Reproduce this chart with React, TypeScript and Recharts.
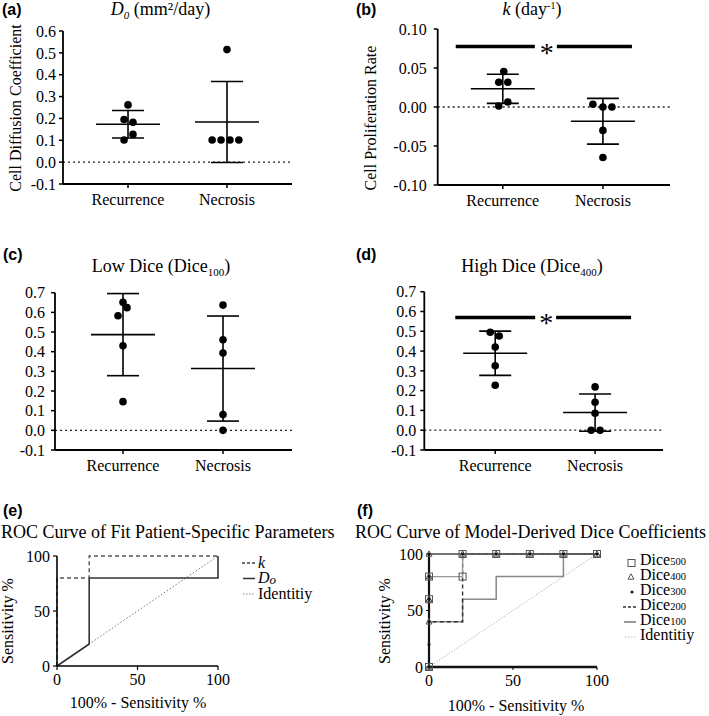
import React from "react";
import {
  ComposedChart,
  Scatter,
  XAxis,
  YAxis,
  ReferenceLine,
  ReferenceDot,
  ErrorBar,
  LineChart,
  Line,
} from "recharts";

const SERIF = '"Liberation Serif", "Times New Roman", serif';
const SANS = '"Liberation Sans", Arial, sans-serif';

const GROUPS = ["Recurrence", "Necrosis"];

// (a) D0 (mm²/day)
const d0Recurrence = [0.262, 0.195, 0.182, 0.127, 0.101];
const d0RecurrenceJitter = [0, -0.04, 0.05, 0.05, -0.04];
const d0Necrosis = [0.515, 0.101, 0.101, 0.101, 0.101];
const d0NecrosisJitter = [0, -0.15, -0.06, 0.03, 0.12];
const d0Ticks = [-0.1, 0, 0.1, 0.2, 0.3, 0.4, 0.5, 0.6];

// (b) k (day^-1)
const kRecurrence = [0.0454, 0.0318, 0.0318, 0.0064, 0.0013];
const kRecurrenceJitter = [0.01, -0.04, 0.05, 0.05, -0.04];
const kNecrosis = [0.0035, 0, 0, -0.03, -0.0647];
const kNecrosisJitter = [-0.1, 0, 0.09, 0, 0];
const kTicks = [-0.1, -0.05, 0, 0.05, 0.1];

// (c) low dice
const lowRecurrence = [0.651, 0.624, 0.583, 0.43, 0.146];
const lowRecurrenceJitter = [0, 0.04, -0.05, 0, 0];
const lowNecrosis = [0.637, 0.461, 0.393, 0.08, 0];
const lowNecrosisJitter = [0, 0, 0, 0, 0];

// (d) high dice
const highRecurrence = [0.495, 0.476, 0.42, 0.326, 0.227];
const highRecurrenceJitter = [-0.05, 0.04, 0, 0, 0];
const highNecrosis = [0.219, 0.141, 0.086, 0, 0];
const highNecrosisJitter = [0, 0, 0, -0.04, 0.05];
const diceTicks = [-0.1, 0, 0.1, 0.2, 0.3, 0.4, 0.5, 0.6, 0.7];

// (e) ROC, fit parameters (fpr = 100% - specificity, tpr = sensitivity)
const rocK = [
  { fpr: 0, tpr: 0 },
  { fpr: 0, tpr: 80 },
  { fpr: 20, tpr: 80 },
  { fpr: 20, tpr: 100 },
  { fpr: 100, tpr: 100 },
];
const rocD0 = [
  { fpr: 0, tpr: 0 },
  { fpr: 20, tpr: 20 },
  { fpr: 20, tpr: 80 },
  { fpr: 100, tpr: 80 },
  { fpr: 100, tpr: 100 },
];
const rocIdentity = [
  { fpr: 0, tpr: 0 },
  { fpr: 100, tpr: 100 },
];

// (f) ROC, dice coefficients
const rocDice500 = [
  { fpr: 0, tpr: 0 },
  { fpr: 0, tpr: 60 },
  { fpr: 0, tpr: 80 },
  { fpr: 20, tpr: 80 },
  { fpr: 20, tpr: 100 },
  { fpr: 40, tpr: 100 },
  { fpr: 60, tpr: 100 },
  { fpr: 80, tpr: 100 },
  { fpr: 100, tpr: 100 },
];
const rocDice400 = [
  { fpr: 0, tpr: 0 },
  { fpr: 0, tpr: 40 },
  { fpr: 0, tpr: 60 },
  { fpr: 0, tpr: 80 },
  { fpr: 0, tpr: 100 },
  { fpr: 20, tpr: 100 },
  { fpr: 40, tpr: 100 },
  { fpr: 60, tpr: 100 },
  { fpr: 80, tpr: 100 },
  { fpr: 100, tpr: 100 },
];
const rocDice300 = [
  { fpr: 0, tpr: 0 },
  { fpr: 0, tpr: 20 },
  { fpr: 0, tpr: 40 },
  { fpr: 0, tpr: 60 },
  { fpr: 0, tpr: 80 },
  { fpr: 0, tpr: 100 },
  { fpr: 20, tpr: 100 },
  { fpr: 40, tpr: 100 },
  { fpr: 60, tpr: 100 },
  { fpr: 80, tpr: 100 },
  { fpr: 100, tpr: 100 },
];
const rocDice200 = [
  { fpr: 0, tpr: 0 },
  { fpr: 0, tpr: 40 },
  { fpr: 20, tpr: 40 },
  { fpr: 20, tpr: 100 },
  { fpr: 100, tpr: 100 },
];
const rocDice100 = [
  { fpr: 0, tpr: 0 },
  { fpr: 0, tpr: 40 },
  { fpr: 20, tpr: 40 },
  { fpr: 20, tpr: 60 },
  { fpr: 40, tpr: 60 },
  { fpr: 40, tpr: 80 },
  { fpr: 80, tpr: 80 },
  { fpr: 80, tpr: 100 },
  { fpr: 100, tpr: 100 },
];
const rocTicks = [0, 50, 100];
const diceLegend = ["500", "400", "300", "200", "100"];

function meanSd(v: number[]) {
  const m = v.reduce((a, b) => a + b, 0) / v.length;
  const sd = Math.sqrt(v.reduce((a, b) => a + (b - m) ** 2, 0) / (v.length - 1));
  return { m, sd };
}

// tick text drawn by hand so the serif font is used
function serifTick(fmt: (v: number) => string, orient: "x" | "y") {
  return (p: any) => (
    <text
      x={p.x}
      y={p.y}
      dy={orient === "x" ? "0.71em" : "0.355em"}
      textAnchor={orient === "x" ? "middle" : "end"}
      fontSize={16}
      fontFamily={SERIF}
      fill="#000"
    >
      {fmt(p.payload.value)}
    </text>
  );
}

const MeanLine = (p: any) => (
  <line x1={p.cx - 32} x2={p.cx + 32} y1={p.cy} y2={p.cy} stroke="#000" strokeWidth={1.6} />
);
const BlackDot = (p: any) => <circle cx={p.cx} cy={p.cy} r={3.8} fill="#000" />;

const axisStyle = { stroke: "#000", strokeWidth: 1.8 };
const groupTick = serifTick((v) => GROUPS[v - 1], "x");
const plainTick = serifTick((v) => String(v), "x");
const plainYTick = serifTick((v) => String(v), "y");

function ScatterPanel(props: any) {
  const { box, margin, yAxisWidth, xDomain, yDomain, yTicks, decimals, yTickMargin, groups, sig } = props;
  const points = groups.flatMap((g: any, gi: number) =>
    g.values.map((y: number, i: number) => ({ x: gi + 1 + g.jitter[i], y }))
  );
  const stats = groups.map((g: any, gi: number) => {
    const s = meanSd(g.values);
    return { x: gi + 1, y: s.m, sd: s.sd };
  });
  return (
    <div style={{ position: "absolute", left: box.left, top: box.top }}>
      <ComposedChart width={box.width} height={box.height} margin={margin}>
        <XAxis
          type="number"
          dataKey="x"
          domain={xDomain}
          ticks={[1, 2]}
          interval={0}
          allowDataOverflow
          axisLine={axisStyle}
          tickLine={{ stroke: "#000", strokeWidth: 1.5 }}
          tickSize={4}
          tickMargin={6}
          tick={groupTick}
          height={30}
        />
        <YAxis
          type="number"
          dataKey="y"
          domain={yDomain}
          ticks={yTicks}
          interval={0}
          allowDataOverflow
          axisLine={axisStyle}
          tickLine={{ stroke: "#000", strokeWidth: 1.5 }}
          tickSize={4}
          tickMargin={yTickMargin}
          tick={serifTick((v) => v.toFixed(decimals), "y")}
          width={yAxisWidth}
        />
        <ReferenceLine y={0} stroke="#222" strokeWidth={1.3} strokeDasharray="2 3" />
        <Scatter data={stats} isAnimationActive={false} shape={MeanLine}>
          <ErrorBar dataKey="sd" direction="y" width={16} stroke="#000" strokeWidth={1.6} isAnimationActive={false} />
        </Scatter>
        <Scatter data={points} isAnimationActive={false} shape={BlackDot} />
        {sig && (
          <ReferenceLine
            segment={[{ x: sig.seg1[0], y: sig.y }, { x: sig.seg1[1], y: sig.y }]}
            stroke="#000"
            strokeWidth={3.5}
          />
        )}
        {sig && (
          <ReferenceLine
            segment={[{ x: sig.seg2[0], y: sig.y }, { x: sig.seg2[1], y: sig.y }]}
            stroke="#000"
            strokeWidth={3.5}
          />
        )}
        {sig && (
          <ReferenceDot
            x={sig.star}
            y={sig.y}
            r={0}
            shape={(p: any) => (
              <text x={p.cx} y={p.cy + 15} textAnchor="middle" fontSize={28} fontFamily={SERIF} fill="#000">
                *
              </text>
            )}
          />
        )}
      </ComposedChart>
    </div>
  );
}

const Square = (p: any) => (
  <rect key={`s${p.index}`} x={p.cx - 3.5} y={p.cy - 3.5} width={7} height={7} fill="none" stroke="#555" strokeWidth={1} />
);
const Triangle = (p: any) => (
  <path
    key={`t${p.index}`}
    d={`M${p.cx},${p.cy - 3.2} L${p.cx + 3},${p.cy + 2.2} L${p.cx - 3},${p.cy + 2.2} Z`}
    fill="none"
    stroke="#555"
    strokeWidth={1}
  />
);
const SmallDot = (p: any) => <circle key={`d${p.index}`} cx={p.cx} cy={p.cy} r={1.5} fill="#111" />;

function Overlay() {
  const t = { fontFamily: SERIF, fill: "#000" } as const;
  const letter = { fontFamily: SANS, fontWeight: 700, fontSize: 16, fill: "#000" } as const;
  return (
    <svg width={709} height={716} style={{ position: "absolute", left: 0, top: 0, pointerEvents: "none" }}>
      <text x={2} y={15} {...letter}>(a)</text>
      <text x={356} y={15} {...letter}>(b)</text>
      <text x={3} y={260} {...letter}>(c)</text>
      <text x={356} y={260} {...letter}>(d)</text>
      <text x={3} y={516} {...letter}>(e)</text>
      <text x={357} y={516} {...letter}>(f)</text>

      <text x={160.5} y={15} textAnchor="middle" fontSize={18} {...t}>
        <tspan fontStyle="italic">D</tspan>
        <tspan fontStyle="italic" fontSize={11} dy={4}>0</tspan>
        <tspan dy={-4}> (mm²/day)</tspan>
      </text>
      <text x={532} y={15} textAnchor="middle" fontSize={18} {...t}>
        <tspan fontStyle="italic">k</tspan>
        <tspan> (day</tspan>
        <tspan fontSize={10} dy={-6}>-1</tspan>
        <tspan dy={6}>)</tspan>
      </text>
      <text x={161} y={271.5} textAnchor="middle" fontSize={18} {...t}>
        <tspan>Low Dice (Dice</tspan>
        <tspan fontSize={11} dy={4}>100</tspan>
        <tspan dy={-4}>)</tspan>
      </text>
      <text x={532} y={271.5} textAnchor="middle" fontSize={18} {...t}>
        <tspan>High Dice (Dice</tspan>
        <tspan fontSize={11} dy={4}>400</tspan>
        <tspan dy={-4}>)</tspan>
      </text>

      <text x={20.5} y={108} textAnchor="middle" fontSize={16} transform="rotate(-90 20.5 108)" {...t}>
        Cell Diffusion Coefficient
      </text>
      <text x={375.5} y={118} textAnchor="middle" fontSize={16} transform="rotate(-90 375.5 118)" {...t}>
        Cell Proliferation Rate
      </text>

      <text x={1} y={538} fontSize={18} {...t}>ROC Curve of Fit Patient-Specific Parameters</text>
      <text x={355} y={538} fontSize={18} {...t}>ROC Curve of Model-Derived Dice Coefficients</text>

      <text x={13} y={621} textAnchor="middle" fontSize={16} transform="rotate(-90 13 621)" {...t}>
        Sensitivity %
      </text>
      <text x={390} y={621} textAnchor="middle" fontSize={16} transform="rotate(-90 390 621)" {...t}>
        Sensitivity %
      </text>
      <text x={138} y={708} textAnchor="middle" fontSize={16} {...t}>100% - Sensitivity %</text>
      <text x={516} y={711} textAnchor="middle" fontSize={16} {...t}>100% - Sensitivity %</text>

      {/* legend (e) */}
      <line x1={242} x2={255} y1={563} y2={563} stroke="#444" strokeWidth={1.3} strokeDasharray="3 2" />
      <text x={258} y={567.5} fontSize={16} fontStyle="italic" {...t}>k</text>
      <line x1={243} x2={255} y1={578.5} y2={578.5} stroke="#333" strokeWidth={1.5} />
      <text x={258} y={583} fontSize={16} {...t}>
        <tspan fontStyle="italic">D</tspan>
        <tspan fontStyle="italic" fontSize={13} dy={0.5}>o</tspan>
      </text>
      <line x1={243} x2={255} y1={594} y2={594} stroke="#888" strokeWidth={1} strokeDasharray="1.5 1.5" />
      <text x={258} y={598.5} fontSize={16} {...t}>Identitiy</text>

      {/* legend (f) */}
      <rect x={628} y={559.5} width={7} height={7} fill="none" stroke="#555" />
      <path d="M631,573.8 L634,579.2 L628,579.2 Z" fill="none" stroke="#555" />
      <circle cx={632} cy={592} r={1.5} fill="#111" />
      <line x1={623} x2={636} y1={607} y2={607} stroke="#333" strokeWidth={1.3} strokeDasharray="3 2" />
      <line x1={624} x2={636} y1={622} y2={622} stroke="#777" strokeWidth={1.5} />
      <line x1={625} x2={637} y1={637} y2={637} stroke="#bbb" strokeWidth={1} strokeDasharray="1.5 1.5" />
      {diceLegend.map((s, i) => (
        <text key={s} x={640} y={565 + i * 15} fontSize={16} {...t}>
          <tspan>Dice</tspan>
          <tspan fontSize={10.5}>{s}</tspan>
        </text>
      ))}
      <text x={640} y={640} fontSize={16} {...t}>Identitiy</text>
    </svg>
  );
}

export default function App() {
  return (
    <div style={{ position: "absolute", left: 0, top: 0, width: 709, height: 716, background: "#fff", fontFamily: SERIF }}>
      <ScatterPanel
        box={{ left: 0, top: 0, width: 300, height: 216 }}
        margin={{ top: 31, right: 8, bottom: 2, left: 13 }}
        yAxisWidth={50}
        xDomain={[0.343, 2.657]}
        yDomain={[-0.1, 0.6]}
        yTicks={d0Ticks}
        decimals={1}
        yTickMargin={3}
        groups={[
          { values: d0Recurrence, jitter: d0RecurrenceJitter },
          { values: d0Necrosis, jitter: d0NecrosisJitter },
        ]}
      />
      <ScatterPanel
        box={{ left: 355, top: 0, width: 325, height: 217 }}
        margin={{ top: 29, right: 10, bottom: 2, left: 22.7 }}
        yAxisWidth={60}
        xDomain={[0.35, 2.67]}
        yDomain={[-0.1, 0.1]}
        yTicks={kTicks}
        decimals={2}
        yTickMargin={7}
        groups={[
          { values: kRecurrence, jitter: kRecurrenceJitter },
          { values: kNecrosis, jitter: kNecrosisJitter },
        ]}
        sig={{ y: 0.0775, seg1: [0.53, 1.32], star: 1.44, seg2: [1.54, 2.29] }}
      />
      <ScatterPanel
        box={{ left: 0, top: 270, width: 300, height: 212 }}
        margin={{ top: 22.7, right: 8, bottom: 2, left: 10 }}
        yAxisWidth={45}
        xDomain={[0.32, 2.69]}
        yDomain={[-0.1, 0.7]}
        yTicks={diceTicks}
        decimals={1}
        yTickMargin={6}
        groups={[
          { values: lowRecurrence, jitter: lowRecurrenceJitter },
          { values: lowNecrosis, jitter: lowNecrosisJitter },
        ]}
      />
      <ScatterPanel
        box={{ left: 355, top: 270, width: 316, height: 212 }}
        margin={{ top: 21.7, right: 8, bottom: 2, left: 24.3 }}
        yAxisWidth={45}
        xDomain={[0.29, 2.68]}
        yDomain={[-0.1, 0.7]}
        yTicks={diceTicks}
        decimals={1}
        yTickMargin={4}
        groups={[
          { values: highRecurrence, jitter: highRecurrenceJitter },
          { values: highNecrosis, jitter: highNecrosisJitter },
        ]}
        sig={{ y: 0.57, seg1: [0.6, 1.4], star: 1.51, seg2: [1.61, 2.36] }}
      />

      {/* (e) */}
      <div style={{ position: "absolute", left: 0, top: 540 }}>
        <LineChart width={240} height={156} margin={{ top: 16, right: 22, bottom: 0, left: 17 }}>
          <XAxis
            type="number"
            dataKey="fpr"
            domain={[0, 100]}
            ticks={rocTicks}
            interval={0}
            axisLine={{ stroke: "#000", strokeWidth: 1.6 }}
            tickLine={{ stroke: "#000", strokeWidth: 1.2 }}
            tickSize={4}
            tickMargin={4}
            tick={plainTick}
            height={30}
          />
          <YAxis
            type="number"
            dataKey="tpr"
            domain={[0, 100]}
            ticks={rocTicks}
            interval={0}
            axisLine={{ stroke: "#000", strokeWidth: 1.6 }}
            tickLine={{ stroke: "#000", strokeWidth: 1.2 }}
            tickSize={4}
            tickMargin={3}
            tick={plainYTick}
            width={40}
          />
          <Line data={rocIdentity} dataKey="tpr" stroke="#777" strokeWidth={1} strokeDasharray="1.5 2" dot={false} isAnimationActive={false} />
          <Line data={rocD0} dataKey="tpr" stroke="#333" strokeWidth={1.6} dot={false} isAnimationActive={false} />
          <Line data={rocK} dataKey="tpr" stroke="#555" strokeWidth={1.4} strokeDasharray="4 3" dot={false} isAnimationActive={false} />
        </LineChart>
      </div>

      {/* (f) */}
      <div style={{ position: "absolute", left: 355, top: 540 }}>
        <LineChart width={262} height={157} margin={{ top: 14, right: 20, bottom: 0, left: 24 }}>
          <XAxis
            type="number"
            dataKey="fpr"
            domain={[0, 100]}
            ticks={rocTicks}
            interval={0}
            axisLine={{ stroke: "#111", strokeWidth: 2.6 }}
            tickLine={{ stroke: "#000", strokeWidth: 1 }}
            tickSize={3}
            tickMargin={5}
            tick={plainTick}
            height={30}
          />
          <YAxis
            type="number"
            dataKey="tpr"
            domain={[0, 100]}
            ticks={rocTicks}
            interval={0}
            axisLine={{ stroke: "#111", strokeWidth: 2.2 }}
            tickLine={{ stroke: "#000", strokeWidth: 1 }}
            tickSize={3}
            tickMargin={3}
            tick={plainYTick}
            width={50}
          />
          <Line data={rocIdentity} dataKey="tpr" stroke="#bbb" strokeWidth={1} strokeDasharray="1.5 1.5" dot={false} isAnimationActive={false} />
          <Line data={rocDice100} dataKey="tpr" stroke="#888" strokeWidth={1.5} dot={false} isAnimationActive={false} />
          <Line data={rocDice200} dataKey="tpr" stroke="#333" strokeWidth={1.4} strokeDasharray="4 3" dot={false} isAnimationActive={false} />
          <Line data={rocDice500} dataKey="tpr" stroke="#999" strokeWidth={1.3} dot={Square} isAnimationActive={false} />
          <Line data={rocDice400} dataKey="tpr" stroke="#777" strokeWidth={1.2} dot={Triangle} isAnimationActive={false} />
          <Line data={rocDice300} dataKey="tpr" stroke="#333" strokeWidth={1.2} dot={SmallDot} isAnimationActive={false} />
        </LineChart>
      </div>

      <Overlay />
    </div>
  );
}
